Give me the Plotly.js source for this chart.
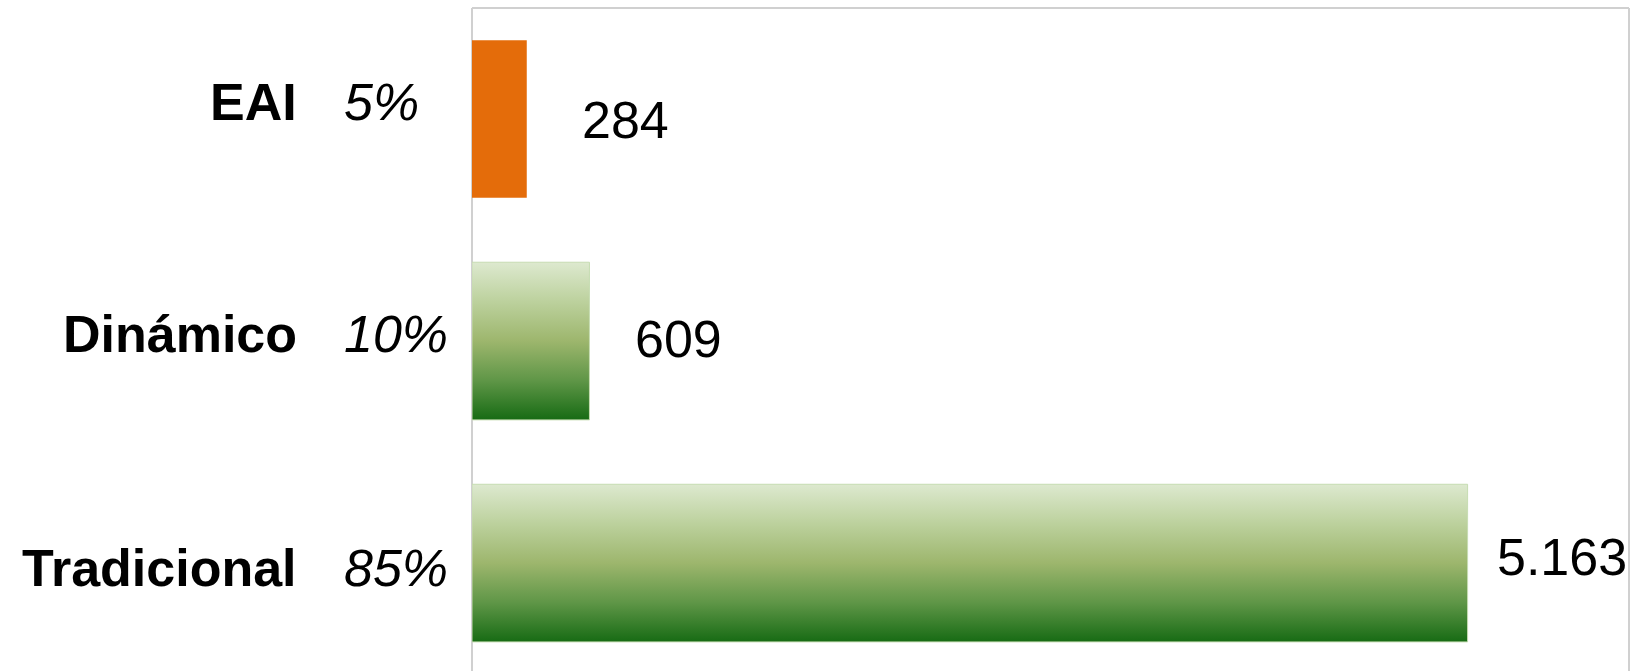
<!DOCTYPE html>
<html>
<head>
<meta charset="utf-8">
<script src="https://cdn.plot.ly/plotly-3.0.1.min.js"></script>
<style>
html,body{margin:0;padding:0;background:#fff;}
#chart{width:1633px;height:671px;}
</style>
</head>
<body>
<div id="chart"></div>
<script>
// ---- data ----
const categories = ['EAI', 'Dinámico', 'Tradicional'];
const values = [284, 609, 5163];
const shareLabels = ['5%', '10%', '85%'];

// ---- styles (not data) ----
const barColors = ['#e46c0a', '#8fb163', '#8fb163'];
const gradientBars = [false, true, true];
const valueXShift = [53, 44, 27];
const valueYShift = [-1, 2, 6];
const labelYShift = [17, 7, -5];
const FONT = 'Liberation Sans, Arial, sans-serif';

function fmt(v) {
  return String(v).replace(/\B(?=(\d{3})+(?!\d))/g, '.');
}

const trace = {
  type: 'bar',
  orientation: 'h',
  x: values,
  y: categories,
  width: 0.71,
  marker: {
    color: barColors,
    line: {color: ['rgba(0,0,0,0)', '#c6dcb2', '#c6dcb2'], width: 1}
  },
  hoverinfo: 'x+y',
  showlegend: false
};

const annotations = [];
categories.forEach((c, i) => {
  annotations.push({
    xref: 'x', yref: 'y', x: values[i], y: c,
    text: fmt(values[i]), showarrow: false,
    xanchor: 'left', yanchor: 'middle',
    xshift: valueXShift[i], yshift: valueYShift[i],
    font: {family: FONT, size: 52, color: '#000'}
  });
  annotations.push({
    xref: 'paper', yref: 'y', x: 0, y: c,
    text: '<b>' + c + '</b>', showarrow: false,
    xanchor: 'right', yanchor: 'middle',
    xshift: -173, yshift: labelYShift[i],
    font: {family: FONT, size: 52, color: '#000'}
  });
  annotations.push({
    xref: 'paper', yref: 'y', x: 0, y: c,
    text: shareLabels[i], showarrow: false,
    xanchor: 'left', yanchor: 'middle',
    xshift: -130, yshift: labelYShift[i],
    font: {family: FONT, size: 52, color: '#000', style: 'italic'}
  });
});

const frame = {color: '#d0d0d0', width: 2};
const layout = {
  width: 1633, height: 671,
  margin: {l: 472, r: 4, t: 8, b: 0, pad: 0},
  paper_bgcolor: '#ffffff', plot_bgcolor: '#ffffff',
  font: {family: FONT, color: '#000'},
  xaxis: {range: [0, 6000], showgrid: false, zeroline: false, showticklabels: false, ticks: '', showline: false, fixedrange: true},
  yaxis: {type: 'category', range: [2.486, -0.5], showgrid: false, zeroline: false, showticklabels: false, ticks: '', showline: false, fixedrange: true},
  annotations: annotations,
  shapes: [
    {type: 'line', xref: 'paper', yref: 'paper', x0: 0, x1: 0, y0: 0, y1: 1, line: frame, layer: 'below'},
    {type: 'line', xref: 'paper', yref: 'paper', x0: 0, x1: 1, y0: 1, y1: 1, line: frame, layer: 'below'},
    {type: 'line', xref: 'paper', yref: 'paper', x0: 1, x1: 1, y0: 0, y1: 1, line: frame, layer: 'below'}
  ]
};

Plotly.newPlot('chart', [trace], layout, {displayModeBar: false, staticPlot: true}).then(gd => {
  const svg = gd.querySelector('.main-svg');
  const ns = 'http://www.w3.org/2000/svg';
  const defs = svg.querySelector('defs') || svg.insertBefore(document.createElementNS(ns, 'defs'), svg.firstChild);
  const grad = document.createElementNS(ns, 'linearGradient');
  grad.setAttribute('id', 'mossGrad');
  grad.setAttribute('x1', '0'); grad.setAttribute('y1', '0');
  grad.setAttribute('x2', '0'); grad.setAttribute('y2', '1');
  [['0', '#dde9cf'], ['0.25', '#bcd19d'], ['0.5', '#9db66d'], ['0.75', '#5f9647'], ['1', '#176b14']].forEach(([o, c]) => {
    const s = document.createElementNS(ns, 'stop');
    s.setAttribute('offset', o); s.setAttribute('stop-color', c);
    grad.appendChild(s);
  });
  defs.appendChild(grad);
  const paths = gd.querySelectorAll('.barlayer .point path');
  paths.forEach((p, i) => { if (gradientBars[i]) p.style.fill = 'url(#mossGrad)'; });
});
</script>
</body>
</html>
